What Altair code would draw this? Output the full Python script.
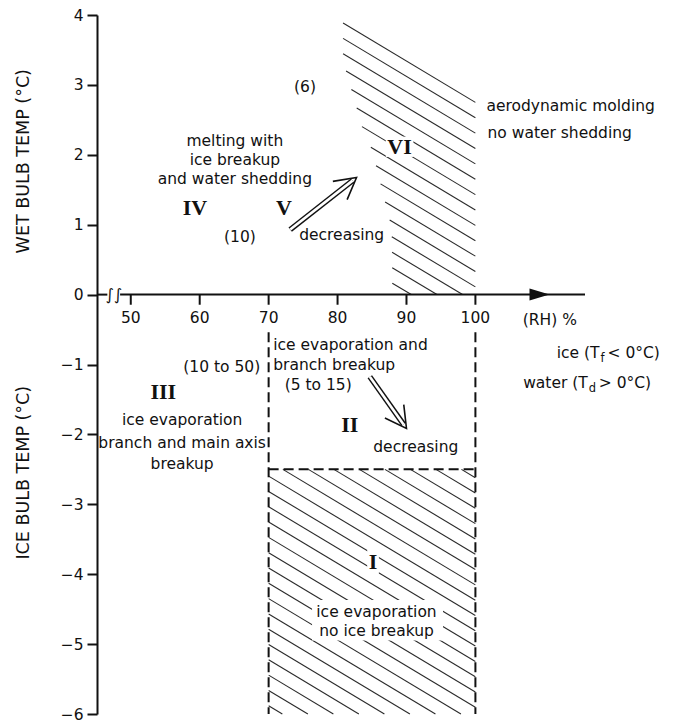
import altair as alt
import numpy as np
import pandas as pd

FONT = "DejaVu Sans"
SERIF = "Liberation Serif"
INK = "#111111"

# ---------------- scales / layout ----------------
X_DOMAIN = [45.1, 115.9]
Y_DOMAIN = [-6.0, 4.0]
W, H = 488, 699
PX_X = W / (X_DOMAIN[1] - X_DOMAIN[0])
PX_Y = H / (Y_DOMAIN[1] - Y_DOMAIN[0])

# ---------------- data ----------------
x_tick_values = [50, 60, 70, 80, 90, 100]
x_tick_labels = ["50", "60", "70", "80", "90", "100"]
y_tick_values = [-6, -5, -4, -3, -2, -1, 0, 1, 2, 3, 4]

axis_seg_x = [45.1, 48.45]
axis_seg_x2 = [46.6, 115.9]
break_x = [46.95, 48.15]
arrowhead_x = [109.3]

# region VI outline (RH %, T degC)
vi_x = [80.8, 100.0, 100.0, 87.95, 87.9, 87.6, 85.0, 83.7, 80.8]
vi_y = [3.92, 2.78, 0.0, 0.0, 0.80, 1.05, 2.07, 2.35, 3.35]
vi_hatch_first = 2.75      # T of first hatch line at RH = 100
vi_hatch_count = 16
vi_hatch_step = 0.22

# region I box
i_x = [70.0, 100.0, 100.0, 70.0]
i_y = [-2.5, -2.5, -6.0, -6.0]
i_hatch_first = -2.62
i_hatch_count = 24
i_hatch_step = 0.219

HATCH_PIXEL_SLOPE = 0.6    # drop in px per px to the right

# dashed outlines
dash_x = [70, 100, 70]
dash_x2 = [70, 100, 100]
dash_y = [-0.54, -0.54, -2.5]
dash_y2 = [-6.0, -6.0, -2.5]

# white gaps in the hatching behind labels
hole_x = [76.3, 84.3, 87.0]
hole_x2 = [95.3, 86.0, 91.0]
hole_y = [-4.37, -3.65, 1.97]
hole_y2 = [-4.95, -3.995, 2.26]

# double arrows
arrow_tail_x = [73.13, 84.68]
arrow_tail_y = [0.93, -1.175]
arrow_tip_x = [82.75, 90.0]
arrow_tip_y = [1.675, -1.915]

# texts
ctext = ["(6)", "melting with", "ice breakup", "and water shedding", "(10)",
         "decreasing", "(10 to 50)", "ice evaporation", "branch and main axis",
         "breakup", "(5 to 15)", "decreasing", "ice evaporation",
         "no ice breakup", "(RH) %"]
cx = [75.27, 65.1, 65.1, 65.1, 65.84, 80.6, 63.2, 57.45, 57.45, 57.45,
      77.19, 91.35, 85.65, 85.65, 110.8]
cy = [2.963, 2.199, 1.923, 1.647, 0.826, 0.85, -1.03, -1.80, -2.13, -2.43,
      -1.296, -2.179, -4.54, -4.81, -0.366]

ltext = ["aerodynamic molding", "no water shedding", "ice evaporation and",
         "branch breakup"]
lx = [101.6, 101.75, 70.67, 70.67]
ly = [2.696, 2.305, -0.724, -1.01]

roman = ["VI", "IV", "V", "III", "II", "I"]
rx = [89.0, 59.32, 72.23, 54.72, 81.78, 85.16]
ry = [2.11, 1.246, 1.246, -1.392, -1.867, -3.824]

leg_main = ["ice (T", "water (T"]
leg_sub = ["f", "d"]
leg_rest = ["< 0°C)", "> 0°C)"]
leg_anchor_x = [118.0, 116.3]
leg_y = [-0.84, -1.27]
leg_rest_gap_px = [8, 11]

titles = ["WET BULB TEMP (°C)", "ICE BULB TEMP (°C)"]
title_y = [1.908, -2.548]

# ---------------- helpers ----------------
XS = alt.Scale(domain=X_DOMAIN, nice=False, zero=False)
YS = alt.Scale(domain=Y_DOMAIN, nice=False, zero=False)
YAXIS = alt.Axis(values=y_tick_values, title=None, grid=False, tickSize=10,
                 tickWidth=2, tickColor=INK, domainColor=INK, domainWidth=2,
                 labelFont=FONT, labelFontSize=15.5, labelColor=INK,
                 labelPadding=4, labelFlush=False, labelOverlap=False)


def ex(f):
    return alt.X(f, type="quantitative", scale=XS, axis=None)


def ey(f):
    return alt.Y(f, type="quantitative", scale=YS, axis=YAXIS)


def point_in_poly(px, py, poly_x, poly_y):
    inside = np.zeros(px.shape, dtype=bool)
    n = len(poly_x)
    j = n - 1
    for i in range(n):
        xi, yi, xj, yj = poly_x[i], poly_y[i], poly_x[j], poly_y[j]
        cond = (yi > py) != (yj > py)
        with np.errstate(divide="ignore", invalid="ignore"):
            xint = (xj - xi) * (py - yi) / (yj - yi) + xi
        inside ^= cond & (px < xint)
        j = i
    return inside


def hatch(poly_x, poly_y, first, count, step):
    slope = -HATCH_PIXEL_SLOPE * PX_X / PX_Y
    xs = np.linspace(min(poly_x), max(poly_x), 4000)
    segs = []
    for k in range(count):
        c = first - step * k
        ys = c + slope * (xs - 100.0)
        ins = point_in_poly(xs, ys, poly_x, poly_y).astype(int)
        edges = np.flatnonzero(np.diff(np.concatenate([[0], ins, [0]])))
        for a, b in zip(edges[::2], edges[1::2]):
            if b - a > 2:
                segs.append((xs[a], ys[a], xs[b - 1], ys[b - 1]))
    return pd.DataFrame(segs, columns=["x", "y", "x2", "y2"])


hatch_df = pd.concat([
    hatch(vi_x, vi_y, vi_hatch_first, vi_hatch_count, vi_hatch_step),
    hatch(i_x, i_y, i_hatch_first, i_hatch_count, i_hatch_step),
], ignore_index=True)

# arrows
ar = pd.DataFrame({"tx": arrow_tail_x, "ty": arrow_tail_y,
                   "hx": arrow_tip_x, "hy": arrow_tip_y})
dxp = (ar.hx - ar.tx) * PX_X
dyp = -(ar.hy - ar.ty) * PX_Y
ln = np.hypot(dxp, dyp)
ar["ang"] = np.degrees(np.arctan2(dyp, dxp)) % 360
ar["ex"] = ar.hx - 5 * dxp / ln / PX_X
ar["ey"] = ar.hy + 5 * dyp / ln / PX_Y

# ---------------- layers ----------------
layers = []

layers.append(alt.Chart(hatch_df).mark_rule(color="#2a2a2a", strokeWidth=1.1).encode(
    x=ex("x"), y=ey("y"), x2="x2", y2="y2"))

holes = pd.DataFrame({"x": hole_x, "x2": hole_x2, "y": hole_y, "y2": hole_y2})
layers.append(alt.Chart(holes).mark_rect(color="white").encode(
    x=ex("x"), x2="x2", y=ey("y"), y2="y2"))

dashes = pd.DataFrame({"x": dash_x, "x2": dash_x2, "y": dash_y, "y2": dash_y2})
layers.append(alt.Chart(dashes).mark_rule(color=INK, strokeWidth=2,
                                           strokeDash=[10, 5]).encode(
    x=ex("x"), x2="x2", y=ey("y"), y2="y2"))

# x axis drawn at T = 0
segs = pd.DataFrame({"x": axis_seg_x, "x2": axis_seg_x2, "y": [0, 0]})
layers.append(alt.Chart(segs).mark_rule(color=INK, strokeWidth=2).encode(
    x=ex("x"), x2="x2", y=ey("y")))

ticks = pd.DataFrame({"x": x_tick_values, "lab": x_tick_labels,
                      "y": 0.0, "y2": -0.145, "ly": -0.34})
layers.append(alt.Chart(ticks).mark_rule(color=INK, strokeWidth=2).encode(
    x=ex("x"), y=ey("y"), y2="y2"))
layers.append(alt.Chart(ticks).mark_text(font=FONT, fontSize=15.5, color=INK,
                                          align="center", baseline="middle").encode(
    x=ex("x"), y=ey("ly"), text="lab"))

brk = pd.DataFrame({"x": break_x, "y": 0.0, "t": "∫"})
layers.append(alt.Chart(brk).mark_text(font=FONT, fontSize=16, color=INK,
                                        align="center", baseline="middle").encode(
    x=ex("x"), y=ey("y"), text="t"))

ah = pd.DataFrame({"x": arrowhead_x, "y": 0.0})
layers.append(alt.Chart(ah).mark_point(shape="M-1,-0.6L1,0L-1,0.6Z", filled=True,
                                        size=400, color=INK, opacity=1).encode(
    x=ex("x"), y=ey("y")))

# double arrows
layers.append(alt.Chart(ar).mark_rule(color=INK, strokeWidth=5.5, strokeCap="butt").encode(
    x=ex("tx"), y=ey("ty"), x2="ex", y2="ey"))
layers.append(alt.Chart(ar).mark_rule(color="white", strokeWidth=2.6, strokeCap="butt").encode(
    x=ex("tx"), y=ey("ty"), x2="ex", y2="ey"))
layers.append(alt.Chart(ar).mark_point(shape="M-1,-0.55L0,0L-1,0.55", filled=False,
                                        size=1764, stroke=INK, strokeWidth=1.6,
                                        opacity=1).encode(
    x=ex("hx"), y=ey("hy"), angle=alt.Angle("ang:Q", scale=None)))

# texts
cdf = pd.DataFrame({"t": ctext, "x": cx, "y": cy})
layers.append(alt.Chart(cdf).mark_text(font=FONT, fontSize=15.5, color=INK,
                                        align="center", baseline="middle").encode(
    x=ex("x"), y=ey("y"), text="t"))

ldf = pd.DataFrame({"t": ltext, "x": lx, "y": ly})
layers.append(alt.Chart(ldf).mark_text(font=FONT, fontSize=15.5, color=INK,
                                        align="left", baseline="middle").encode(
    x=ex("x"), y=ey("y"), text="t"))

rdf = pd.DataFrame({"t": roman, "x": rx, "y": ry})
layers.append(alt.Chart(rdf).mark_text(font=SERIF, fontSize=22, fontWeight="bold",
                                        color=INK, align="center",
                                        baseline="middle").encode(
    x=ex("x"), y=ey("y"), text="t"))

leg = pd.DataFrame({"main": leg_main, "sub": leg_sub, "rest": leg_rest,
                    "x": leg_anchor_x, "y": leg_y})
leg["sx"] = leg.x + 1 / PX_X
leg["sy"] = leg.y - 6 / PX_Y
leg["rx"] = leg.x + np.array(leg_rest_gap_px) / PX_X
layers.append(alt.Chart(leg).mark_text(font=FONT, fontSize=15.5, color=INK,
                                        align="right", baseline="middle").encode(
    x=ex("x"), y=ey("y"), text="main"))
layers.append(alt.Chart(leg).mark_text(font=FONT, fontSize=11.5, color=INK,
                                        align="left", baseline="middle").encode(
    x=ex("sx"), y=ey("sy"), text="sub"))
layers.append(alt.Chart(leg).mark_text(font=FONT, fontSize=15.5, color=INK,
                                        align="left", baseline="middle").encode(
    x=ex("rx"), y=ey("y"), text="rest"))

tdf = pd.DataFrame({"t": titles, "y": title_y})
layers.append(alt.Chart(tdf).mark_text(font=FONT, fontSize=17.5, color=INK,
                                        angle=270, align="center",
                                        baseline="middle").encode(
    x=alt.value(-73), y=ey("y"), text="t"))

chart = alt.layer(*layers).properties(
    width=W, height=H,
    padding={"left": 89, "top": 7, "right": 91, "bottom": 14},
    autosize=alt.AutoSizeParams(type="none"),
).configure_view(stroke=None)

chart.save("out.html", embed_options={"renderer": "svg", "actions": False})
